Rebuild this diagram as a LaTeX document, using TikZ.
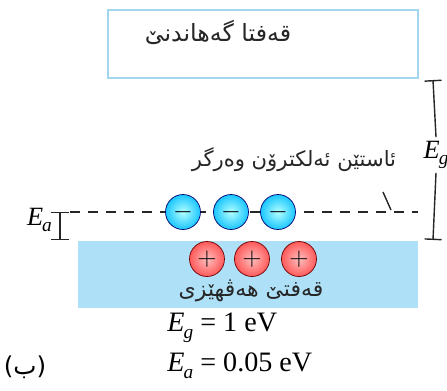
\documentclass[tikz,border=0pt]{standalone}
\usepackage{fontspec}
\setmainfont{Liberation Serif}
\newfontfamily\arabicfont[Script=Arabic]{DejaVu Sans}
\usetikzlibrary{arrows.meta}
\TeXXeTstate=1
\definecolor{bandblue}{HTML}{AEE1F8}
\definecolor{boxline}{HTML}{A3D7F0}
\newcommand{\Elab}[1]{{\itshape E}\kern-0.5pt\raisebox{-0.55ex}{\fontsize{11}{11}\selectfont\itshape #1}}
\newcommand{\kutext}[1]{{\arabicfont\beginR #1\endR}}
\tikzset{
  bandfill/.style={fill=bandblue, draw=none},
  cbandbox/.style={draw=boxline, line width=0.9pt},
  levelline/.style={line width=0.8pt, draw=black!85, dash pattern=on 0.2cm off 0.16cm},
  gapbar/.style={line width=0.8pt, draw=black!85},
  eball/.style={circle, minimum size=0.7cm, inner sep=0pt, draw=blue!45!black, line width=0.4pt,
    inner color=cyan!30, outer color=cyan!75!blue!90, font=\fontsize{15}{15}\selectfont},
  hball/.style={circle, minimum size=0.7cm, inner sep=0pt, draw=red!45!black, line width=0.4pt,
    inner color=red!25, outer color=red!65, font=\fontsize{15}{15}\selectfont},
  kulabel/.style={font=\fontsize{12.5}{14}\selectfont, inner sep=1pt, text=black!85},
  eqlabel/.style={font=\fontsize{16}{18}\selectfont, anchor=west, inner sep=0pt},
}
\begin{document}
\begin{tikzpicture}[x=0.02cm, y=-0.02cm]
\useasboundingbox (0,0) rectangle (447,390);
% conduction band
\draw[cbandbox] (108,10) rectangle (418,78);
\node[kulabel, font=\fontsize{13.5}{15}\selectfont] (cbtext) at (218,32) {\kutext{قەفتا گەھاندنێ}};
% valence band
\fill[bandfill] (78,241) rectangle (418,308);
\node[kulabel] (vbtext) at (251,291) {\kutext{قەفتێ ھەڤھێزی}};
% acceptor level
\coordinate (levl) at (70,212);
\coordinate (levr) at (418,212);
\draw[levelline] (levl) -- (levr);
\node[kulabel, font=\fontsize{12}{14}\selectfont] (acctext) at (294,160) {\kutext{ئاستێن ئەلکترۆن وەرگر}};
\coordinate (lead1) at (383,192);
\coordinate (lead2) at (391,210);
\draw[gapbar] (lead1) -- (lead2);
% electrons and holes
\foreach \x/\n in {183/1,231/2,278/3}
  \node[eball] (el\n) at (\x,212) {$-$};
\foreach \x/\n in {207/1,252/2,299/3}
  \node[hball] (ho\n) at (\x,259) {$+$};
% gap energy
\coordinate (egtop) at (433,80);
\coordinate (egbot) at (433,240);
\node[font=\fontsize{15}{17}\selectfont, inner sep=2pt] (eglabel) at (436,155) {\Elab{g}};
\draw[gapbar, {Bar[width=0.34cm]}-] (egtop) -- (eglabel.north);
\draw[gapbar, -{Bar[width=0.34cm]}] (eglabel.south) -- (egbot);
% acceptor energy
\coordinate (eatop) at (60,212);
\coordinate (eabot) at (60,240);
\node[font=\fontsize{15}{17}\selectfont, anchor=east, inner sep=1pt] (ealabel) at (54,220) {\Elab{a}};
\draw[gapbar, {Bar[width=0.38cm]}-{Bar[width=0.38cm]}] (eatop) -- (eabot);
% values
\node[eqlabel] (egval) at (167,328) {\Elab{g} = 1 eV};
\node[eqlabel] (eaval) at (167,366) {\Elab{a} = 0.05 eV};
\node[font=\fontsize{14}{16}\selectfont] (partlab) at (25,367) {\kutext{(ب)}};
\end{tikzpicture}
\end{document}
